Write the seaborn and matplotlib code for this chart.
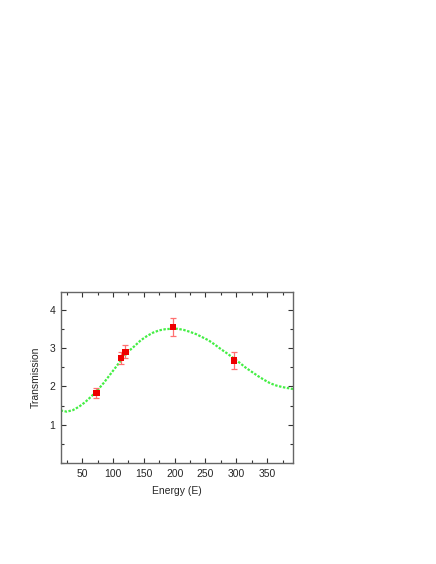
import numpy as np
import pandas as pd
import matplotlib
matplotlib.use("Agg")
import matplotlib.pyplot as plt
from matplotlib.ticker import MultipleLocator
import seaborn as sns

# fitted curve
fit_energy = [15, 25, 35, 45, 55, 65, 75, 85, 95, 105, 115, 125, 135, 145, 155,
              165, 175, 185, 195, 205, 215, 225, 235, 245, 255, 265, 275, 285,
              295, 305, 315, 325, 335, 345, 355, 365, 375, 385, 392]
fit_trans = [1.37, 1.34, 1.38, 1.47, 1.59, 1.74, 1.90, 2.09, 2.30, 2.51, 2.72,
             2.91, 3.05, 3.20, 3.31, 3.40, 3.46, 3.49, 3.50, 3.50, 3.47, 3.42,
             3.36, 3.28, 3.20, 3.09, 2.97, 2.86, 2.74, 2.62, 2.49, 2.38, 2.27,
             2.17, 2.08, 2.02, 1.98, 1.95, 1.93]

# measured points
meas_energy = [73, 113, 120, 197, 296]
meas_trans = [1.83, 2.74, 2.90, 3.55, 2.68]
meas_err = [0.13, 0.16, 0.17, 0.23, 0.22]

fit_df = pd.DataFrame({"Energy": fit_energy, "Transmission": fit_trans})
meas_df = pd.DataFrame({"Energy": meas_energy, "Transmission": meas_trans})

sns.set_style("ticks")
plt.rcParams["font.family"] = ["Liberation Sans", "DejaVu Sans"]

fig = plt.figure(figsize=(4.36, 5.64), dpi=100)
ax = fig.add_axes([0.139, 0.179, 0.533, 0.304])

sns.lineplot(data=fit_df, x="Energy", y="Transmission", ax=ax,
             color="#44ee44", linewidth=1.6, linestyle=(0, (1.1, 0.7)), zorder=2)
ax.errorbar(meas_energy, meas_trans, yerr=meas_err, fmt="none",
            ecolor="#ff7070", elinewidth=0.9, capsize=2.2, capthick=0.9, zorder=3)
sns.scatterplot(data=meas_df, x="Energy", y="Transmission", ax=ax,
                marker="s", s=22, color="#ee0000", edgecolor="none", zorder=4)

ax.set_xlim(15, 392)
ax.set_ylim(0, 4.47)
ax.xaxis.set_major_locator(MultipleLocator(50))
ax.xaxis.set_minor_locator(MultipleLocator(25))
ax.yaxis.set_major_locator(MultipleLocator(1))
ax.yaxis.set_minor_locator(MultipleLocator(0.5))
ax.set_yticks([1, 2, 3, 4])
ax.tick_params(which="both", direction="in", top=True, right=True,
               labelsize=7.5, color="#333333", width=0.8)
ax.tick_params(which="major", length=3.5, pad=4)
ax.tick_params(which="minor", length=2)

for sp in ax.spines.values():
    sp.set_color("#666666")
    sp.set_linewidth(1.0)

ax.set_xlabel("Energy (E)", fontsize=7.5, labelpad=5)
ax.set_ylabel("Transmission", fontsize=7.5, labelpad=6)

fig.savefig("out.png", dpi=100)
plt.close(fig)
